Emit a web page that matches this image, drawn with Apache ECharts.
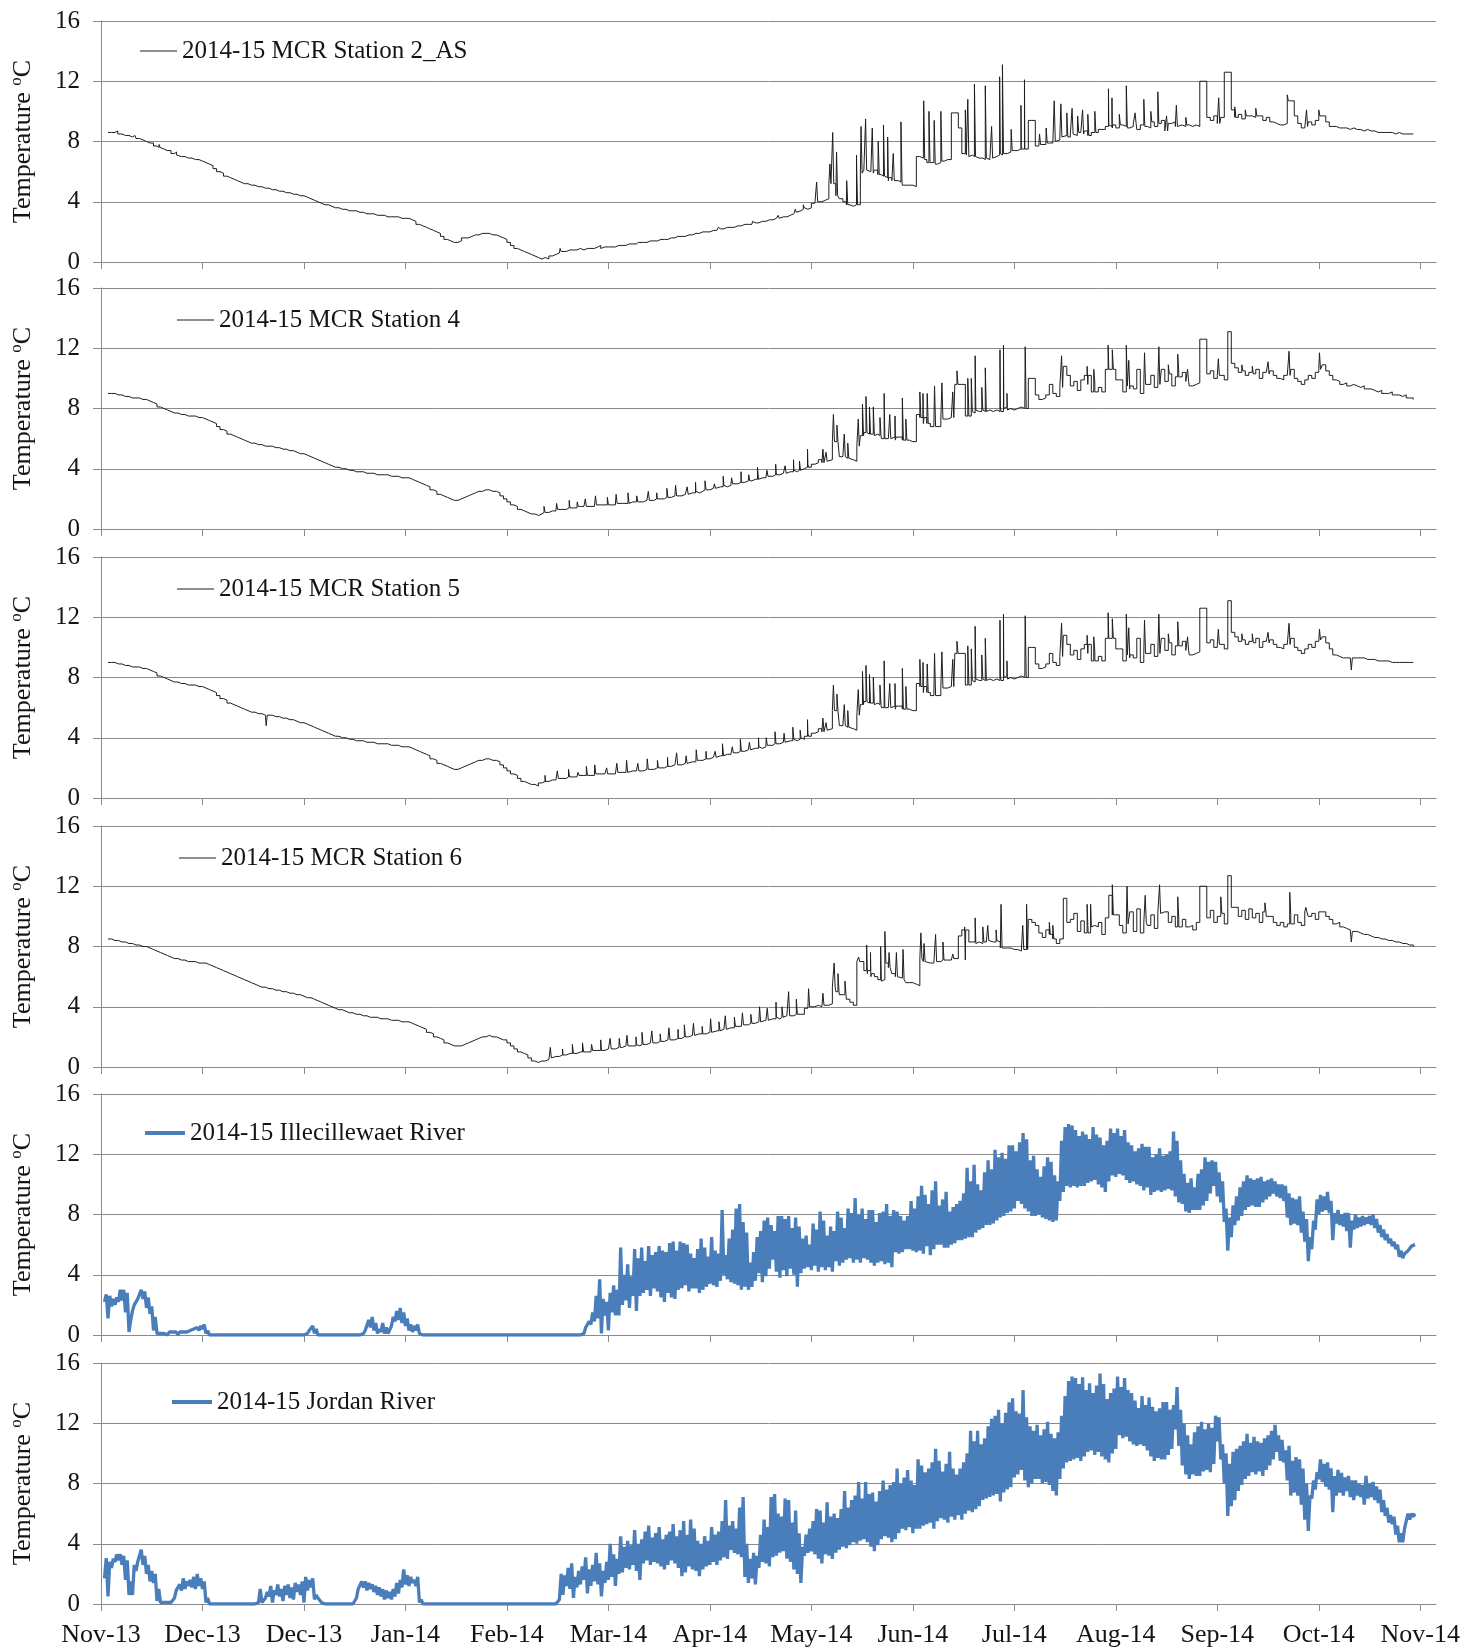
<!DOCTYPE html>
<html>
<head>
<meta charset="utf-8">
<title>2014-15 water temperature</title>
<script src="https://cdn.jsdelivr.net/npm/echarts@6.0.0/dist/echarts.min.js"></script>
<style>
  html, body { margin: 0; padding: 0; background: #ffffff; }
  #chart { width: 1481px; height: 1652px; }
</style>
</head>
<body>
<div id="chart"></div>
<script>
// Month tick labels along the shared time axis (one tick every 29 days from the first reading day).
const xTickLabels = ['Nov-13', 'Dec-13', 'Dec-13', 'Jan-14', 'Feb-14', 'Mar-14', 'Apr-14',
  'May-14', 'Jun-14', 'Jul-14', 'Aug-14', 'Sep-14', 'Oct-14', 'Nov-14'];
const tickStepDays = 29;
const yTickValues = [0, 4, 8, 12, 16];

// Lake stations: one settled reading per day (first value is day 2),
// plus short-lived excursions listed as [day, temperature].
const stationFirstDay = 2;

const station2ASDaily = [
  8.6, 8.6, 8.5, 8.5, 8.4, 8.4, 8.3, 8.3, 8.2, 8.1,
  8.0, 7.9, 7.9, 7.7, 7.6, 7.5, 7.4, 7.3, 7.2, 7.1,
  7.0, 7.0, 6.9, 6.9, 6.8, 6.8, 6.7, 6.6, 6.5, 6.4,
  6.2, 6.0, 5.9, 5.7, 5.6, 5.5, 5.4, 5.3, 5.2, 5.2,
  5.1, 5.1, 5.0, 5.0, 4.9, 4.9, 4.8, 4.8, 4.7, 4.7,
  4.6, 4.6, 4.5, 4.5, 4.4, 4.4, 4.3, 4.2, 4.1, 4.0,
  3.9, 3.8, 3.8, 3.7, 3.6, 3.6, 3.5, 3.5, 3.4, 3.4,
  3.4, 3.3, 3.3, 3.2, 3.2, 3.2, 3.1, 3.1, 3.1, 3.0,
  3.0, 3.0, 3.0, 2.9, 2.9, 2.9, 2.8, 2.7, 2.5, 2.4,
  2.3, 2.2, 2.1, 2.0, 1.9, 1.7, 1.5, 1.4, 1.3, 1.3,
  1.4, 1.6, 1.6, 1.7, 1.8, 1.8, 1.9, 1.9, 1.9, 1.8,
  1.8, 1.7, 1.6, 1.5, 1.3, 1.1, 0.9, 0.8, 0.7, 0.6,
  0.5, 0.4, 0.3, 0.2, 0.3, 0.2, 0.4, 0.5, 0.6, 0.7,
  0.7, 0.8, 0.8, 0.8, 0.9, 0.8, 0.9, 0.9, 0.9, 1.0,
  0.9, 1.0, 1.0, 1.0, 1.0, 1.1, 1.1, 1.1, 1.2, 1.2,
  1.2, 1.3, 1.3, 1.3, 1.4, 1.4, 1.4, 1.5, 1.5, 1.5,
  1.6, 1.6, 1.7, 1.7, 1.7, 1.8, 1.8, 1.9, 1.9, 2.0,
  2.0, 2.0, 2.1, 2.1, 2.2, 2.2, 2.3, 2.3, 2.3, 2.4,
  2.4, 2.5, 2.5, 2.5, 2.6, 2.6, 2.7, 2.7, 2.8, 2.8,
  2.9, 2.9, 3.0, 3.0, 3.1, 3.2, 3.3, 3.4, 3.5, 3.6,
  3.6, 3.9, 4.0, 4.0, 4.1, 4.2, 5.2, 5.2, 4.4, 4.2,
  4.0, 3.8, 3.7, 3.8, 5.7, 5.9, 6.1, 6.0, 5.9, 6.1,
  5.8, 5.7, 5.6, 5.4, 5.4, 5.4, 5.3, 5.1, 5.1, 5.1,
  5.0, 7.0, 6.9, 6.8, 6.6, 6.6, 6.5, 6.6, 6.7, 6.8,
  6.8, 9.9, 9.9, 8.9, 7.2, 7.1, 7.0, 7.0, 6.9, 6.9,
  6.8, 6.9, 6.9, 7.0, 7.1, 7.2, 7.2, 7.3, 7.4, 7.4,
  7.5, 7.5, 7.5, 9.4, 9.4, 7.7, 7.8, 7.8, 7.9, 7.9,
  8.0, 8.1, 8.3, 8.4, 8.3, 8.5, 8.4, 8.6, 8.5, 8.7,
  8.4, 8.6, 8.6, 8.8, 8.8, 9.0, 9.1, 8.9, 8.9, 9.1,
  9.0, 8.9, 9.0, 9.2, 8.8, 9.1, 9.0, 8.9, 9.3, 9.0,
  9.2, 9.4, 8.7, 9.2, 9.3, 9.0, 9.1, 9.0, 9.1, 9.0,
  9.1, 9.0, 12.0, 12.0, 9.6, 9.4, 9.7, 9.2, 9.6, 12.6,
  12.6, 10.1, 9.6, 9.8, 9.5, 9.7, 9.7, 9.6, 9.7, 9.7,
  9.4, 9.6, 9.3, 9.2, 9.1, 9.1, 9.2, 10.7, 10.7, 9.7,
  9.2, 8.9, 9.0, 9.3, 9.1, 9.4, 9.7, 9.7, 9.3, 9.0,
  9.0, 8.9, 8.9, 8.9, 8.8, 8.9, 8.8, 8.8, 8.7, 8.8,
  8.7, 8.7, 8.6, 8.6, 8.6, 8.6, 8.6, 8.5, 8.6, 8.5,
  8.5, 8.5, 8.5, 8.5
];
const station2ASSpikes = [
  [4.5, 8.7], [9.4, 8.4], [14.2, 8.0], [16.6, 7.8], [18.9, 7.5], [21.3, 7.3],
  [131.2, 0.9], [142.5, 1.1], [153.6, 1.4], [164.8, 1.8], [176.4, 2.3], [186.2, 2.7],
  [193.5, 3.1], [198.4, 3.5], [200.7, 3.8],
  [204.5, 5.3], [208.3, 6.5], [209.1, 8.6], [210.2, 7.3], [213.1, 5.4], [215.9, 7.1],
  [217.2, 9.0], [218.5, 9.5], [220.4, 8.9], [222.1, 8.0], [223.6, 9.1], [224.8, 8.3],
  [226.4, 7.2], [228.6, 9.3], [235.1, 10.7], [236.6, 10.0], [238.1, 9.4], [240.0, 10.0],
  [247.0, 10.1], [247.7, 10.8], [249.6, 11.8], [252.7, 11.7], [254.5, 9.0], [256.8, 12.3],
  [257.6, 13.1], [260.1, 8.8], [262.9, 10.4], [263.9, 12.1], [268.2, 8.5], [270.1, 8.9],
  [272.4, 10.7], [274.3, 10.5], [276.0, 9.9], [277.5, 10.2], [279.1, 9.7], [280.5, 10.1],
  [282.0, 9.8], [284.0, 10.0], [287.9, 11.5], [288.9, 10.9], [291.0, 9.8], [293.0, 11.7],
  [295.5, 9.9], [298.0, 10.8], [300.0, 10.0], [302.0, 11.3], [304.5, 9.7], [307.3, 10.4],
  [310.0, 9.6], [319.4, 10.9], [324.0, 10.3], [327.0, 10.1], [330.0, 10.2], [339.0, 11.1],
  [344.5, 10.1], [348.0, 10.1]
];

const station4Daily = [
  9.0, 9.0, 8.9, 8.9, 8.8, 8.8, 8.7, 8.7, 8.7, 8.6,
  8.6, 8.5, 8.4, 8.3, 8.1, 8.0, 7.9, 7.8, 7.7, 7.7,
  7.6, 7.6, 7.5, 7.5, 7.5, 7.4, 7.4, 7.3, 7.2, 7.1,
  7.0, 6.8, 6.6, 6.5, 6.3, 6.2, 6.1, 6.0, 5.9, 5.8,
  5.7, 5.7, 5.6, 5.6, 5.5, 5.5, 5.5, 5.4, 5.4, 5.3,
  5.3, 5.2, 5.2, 5.1, 5.0, 5.0, 4.9, 4.8, 4.7, 4.6,
  4.5, 4.4, 4.3, 4.2, 4.1, 4.1, 4.0, 4.0, 3.9, 3.9,
  3.8, 3.8, 3.8, 3.7, 3.7, 3.7, 3.6, 3.6, 3.6, 3.6,
  3.5, 3.5, 3.5, 3.4, 3.4, 3.4, 3.3, 3.2, 3.1, 3.0,
  2.9, 2.8, 2.6, 2.5, 2.3, 2.2, 2.1, 2.0, 1.9, 1.9,
  2.0, 2.1, 2.2, 2.3, 2.4, 2.5, 2.5, 2.6, 2.6, 2.5,
  2.5, 2.4, 2.2, 2.0, 1.8, 1.6, 1.5, 1.3, 1.2, 1.1,
  1.0, 1.0, 0.9, 1.0, 1.1, 1.1, 1.2, 1.2, 1.3, 1.3,
  1.3, 1.4, 1.4, 1.4, 1.5, 1.5, 1.5, 1.5, 1.5, 1.6,
  1.6, 1.6, 1.6, 1.6, 1.6, 1.7, 1.7, 1.7, 1.7, 1.8,
  1.8, 1.8, 1.8, 1.9, 1.9, 1.9, 2.0, 2.0, 2.0, 2.1,
  2.1, 2.2, 2.2, 2.2, 2.3, 2.3, 2.4, 2.4, 2.5, 2.5,
  2.6, 2.6, 2.7, 2.7, 2.8, 2.8, 2.9, 2.9, 3.0, 3.0,
  3.1, 3.1, 3.2, 3.2, 3.3, 3.3, 3.4, 3.4, 3.5, 3.5,
  3.6, 3.6, 3.7, 3.7, 3.8, 3.8, 3.9, 3.9, 4.0, 4.1,
  4.3, 4.3, 4.4, 4.6, 4.4, 4.5, 4.6, 5.8, 5.8, 4.8,
  4.8, 4.7, 4.6, 4.5, 5.5, 6.2, 6.4, 6.3, 6.3, 6.2,
  6.2, 6.0, 6.0, 6.0, 6.1, 5.9, 6.1, 5.9, 5.9, 5.8,
  5.8, 7.6, 7.4, 7.0, 7.0, 6.8, 6.8, 6.8, 7.3, 7.3,
  7.4, 7.4, 9.6, 9.6, 9.6, 7.5, 7.7, 7.8, 7.9, 7.8,
  7.9, 7.8, 7.8, 7.9, 7.8, 8.1, 8.0, 7.9, 7.9, 8.0,
  8.1, 8.0, 8.0, 10.0, 10.0, 8.9, 8.6, 8.7, 8.9, 9.6,
  9.0, 8.8, 9.4, 10.8, 10.2, 9.5, 9.8, 9.2, 9.9, 10.2,
  9.6, 9.1, 9.7, 9.4, 9.1, 10.6, 10.6, 10.6, 9.9, 9.9,
  9.1, 9.5, 9.3, 9.3, 10.6, 9.0, 9.6, 9.6, 10.2, 9.4,
  9.6, 10.6, 9.8, 10.3, 9.5, 10.1, 10.4, 10.4, 9.8, 9.5,
  9.6, 9.7, 12.6, 12.6, 10.3, 10.5, 10.0, 10.2, 10.2, 9.9,
  13.1, 11.0, 10.7, 10.4, 10.5, 10.2, 10.4, 10.3, 10.6, 10.0,
  10.4, 10.3, 10.5, 10.2, 10.0, 9.9, 10.2, 10.2, 10.6, 10.0,
  9.8, 9.6, 9.9, 10.2, 10.0, 10.4, 10.6, 10.9, 10.5, 10.2,
  9.9, 9.8, 9.6, 9.7, 9.5, 9.6, 9.5, 9.4, 9.5, 9.3,
  9.3, 9.2, 9.1, 9.2, 9.0, 9.0, 9.1, 8.9, 8.9, 8.8,
  8.9, 8.7, 8.7, 8.6
];
const station4Spikes = [
  [126.6, 1.5], [130.2, 1.7], [133.8, 1.9], [136.1, 1.8], [138.4, 2.0], [141.3, 2.2],
  [144.7, 2.1], [147.2, 2.3], [150.6, 2.4], [153.1, 2.2], [156.4, 2.5], [158.8, 2.4],
  [161.7, 2.7], [164.2, 2.9], [167.5, 2.8], [169.9, 3.1], [172.6, 3.2], [175.3, 3.0],
  [177.8, 3.5], [180.2, 3.4], [182.9, 3.8], [185.1, 3.6], [187.6, 4.1], [190.3, 3.9],
  [192.8, 4.3], [195.5, 4.2], [197.9, 4.6], [199.6, 4.5],
  [201.9, 5.3], [206.3, 5.3], [207.2, 5.1], [209.3, 7.6], [210.3, 6.9], [212.4, 6.3],
  [213.4, 5.7], [216.4, 7.3], [217.6, 8.3], [218.6, 8.8], [219.6, 8.1], [220.7, 8.1],
  [222.6, 7.4], [223.8, 9.0], [225.4, 7.6], [226.9, 7.5], [229.0, 8.7], [230.0, 7.3],
  [234.0, 9.1], [234.9, 9.0], [236.1, 9.0], [238.2, 9.5], [240.3, 9.7], [243.4, 9.1],
  [244.6, 10.5], [247.7, 10.0], [248.7, 10.0], [249.8, 11.5], [251.7, 9.4], [252.7, 10.7],
  [256.9, 11.9], [257.9, 12.2], [258.9, 9.0], [264.1, 12.1], [274.5, 11.5], [281.8, 10.8],
  [283.7, 10.6], [287.8, 12.2], [289.0, 11.9], [293.0, 12.2], [293.7, 11.2], [298.2, 11.7],
  [302.3, 12.1], [305.0, 10.9], [307.7, 11.6], [310.5, 10.6], [319.3, 11.3], [326.0, 10.9],
  [329.0, 10.8], [333.5, 11.1], [339.5, 11.8], [348.2, 11.7]
];

const station5Daily = [
  9.0, 9.0, 8.9, 8.9, 8.8, 8.8, 8.7, 8.7, 8.7, 8.6,
  8.6, 8.5, 8.4, 8.3, 8.1, 8.0, 7.9, 7.8, 7.7, 7.7,
  7.6, 7.6, 7.5, 7.5, 7.5, 7.4, 7.4, 7.3, 7.2, 7.1,
  7.0, 6.8, 6.6, 6.5, 6.3, 6.2, 6.1, 6.0, 5.9, 5.8,
  5.7, 5.7, 5.6, 5.6, 5.5, 5.5, 5.5, 5.4, 5.4, 5.3,
  5.3, 5.2, 5.2, 5.1, 5.0, 5.0, 4.9, 4.8, 4.7, 4.6,
  4.5, 4.4, 4.3, 4.2, 4.1, 4.1, 4.0, 4.0, 3.9, 3.9,
  3.8, 3.8, 3.8, 3.7, 3.7, 3.7, 3.6, 3.6, 3.6, 3.6,
  3.5, 3.5, 3.5, 3.4, 3.4, 3.4, 3.3, 3.2, 3.1, 3.0,
  2.9, 2.8, 2.6, 2.5, 2.3, 2.2, 2.1, 2.0, 1.9, 1.9,
  2.0, 2.1, 2.2, 2.3, 2.4, 2.5, 2.5, 2.6, 2.6, 2.5,
  2.5, 2.4, 2.2, 2.0, 1.8, 1.6, 1.5, 1.3, 1.1, 1.0,
  0.9, 0.9, 0.8, 1.0, 1.1, 1.1, 1.2, 1.2, 1.3, 1.3,
  1.3, 1.4, 1.4, 1.4, 1.5, 1.5, 1.5, 1.5, 1.5, 1.6,
  1.6, 1.6, 1.6, 1.6, 1.6, 1.7, 1.7, 1.7, 1.7, 1.8,
  1.8, 1.8, 1.8, 1.9, 1.9, 1.9, 2.0, 2.0, 2.0, 2.1,
  2.1, 2.2, 2.2, 2.2, 2.3, 2.3, 2.4, 2.4, 2.5, 2.5,
  2.6, 2.6, 2.7, 2.7, 2.8, 2.8, 2.9, 2.9, 3.0, 3.0,
  3.1, 3.1, 3.2, 3.2, 3.3, 3.3, 3.4, 3.4, 3.5, 3.5,
  3.6, 3.6, 3.7, 3.7, 3.8, 3.8, 3.9, 3.9, 4.0, 4.1,
  4.3, 4.3, 4.4, 4.6, 4.4, 4.5, 4.6, 5.8, 5.8, 4.8,
  4.8, 4.7, 4.6, 4.5, 5.5, 6.2, 6.4, 6.3, 6.3, 6.2,
  6.2, 6.0, 6.0, 6.0, 6.1, 5.9, 6.1, 5.9, 5.9, 5.8,
  5.8, 7.6, 7.4, 7.0, 7.0, 6.8, 6.8, 6.8, 7.3, 7.3,
  7.4, 7.4, 9.6, 9.6, 9.6, 7.5, 7.7, 7.8, 7.9, 7.8,
  7.9, 7.8, 7.8, 7.9, 7.8, 8.1, 8.0, 7.9, 7.9, 8.0,
  8.1, 8.0, 8.0, 10.0, 10.0, 8.9, 8.6, 8.7, 8.9, 9.6,
  9.0, 8.8, 9.4, 10.8, 10.2, 9.5, 9.8, 9.2, 9.9, 10.2,
  9.6, 9.1, 9.7, 9.4, 9.1, 10.6, 10.6, 10.6, 9.9, 9.9,
  9.1, 9.5, 9.3, 9.3, 10.6, 9.0, 9.6, 9.6, 10.2, 9.4,
  9.6, 10.6, 9.8, 10.3, 9.5, 10.1, 10.4, 10.4, 9.8, 9.5,
  9.6, 9.7, 12.6, 12.6, 10.3, 10.5, 10.0, 10.2, 10.2, 9.9,
  13.1, 11.0, 10.7, 10.4, 10.5, 10.2, 10.4, 10.3, 10.6, 10.0,
  10.4, 10.3, 10.5, 10.2, 10.0, 9.9, 10.2, 10.2, 10.6, 10.0,
  9.8, 9.6, 9.9, 10.2, 10.0, 10.4, 10.5, 10.7, 10.3, 9.9,
  9.5, 9.4, 9.3, 9.3, 9.3, 9.3, 9.3, 9.3, 9.3, 9.2,
  9.2, 9.2, 9.1, 9.1, 9.1, 9.1, 9.0, 9.0, 9.0, 9.0,
  9.0, 9.0, 9.0, 9.0
];
const station5Spikes = [
  [47.2, 4.8],
  [126.9, 1.5], [130.4, 1.8], [133.6, 1.9], [136.3, 1.7], [138.7, 2.1], [141.1, 2.2],
  [144.5, 2.0], [147.4, 2.3], [150.2, 2.5], [153.4, 2.3], [156.1, 2.6], [159.0, 2.5],
  [161.9, 2.7], [164.5, 3.0], [167.2, 2.8], [170.1, 3.2], [172.9, 3.1], [175.5, 3.1],
  [177.6, 3.6], [180.4, 3.4], [182.7, 3.9], [185.3, 3.7], [187.9, 4.0], [190.1, 4.0],
  [192.6, 4.4], [195.2, 4.3], [197.7, 4.7], [199.8, 4.5],
  [201.9, 5.2], [206.3, 5.3], [207.2, 5.0], [209.3, 7.5], [210.3, 6.9], [212.4, 6.2],
  [213.4, 5.8], [216.4, 7.2], [217.6, 8.4], [218.6, 8.8], [219.6, 8.2], [220.7, 8.0],
  [222.6, 7.5], [223.8, 9.1], [225.4, 7.6], [226.9, 7.6], [229.0, 8.6], [230.0, 7.4],
  [234.0, 9.2], [234.9, 9.0], [236.1, 8.9], [238.2, 9.6], [240.3, 9.7], [243.4, 9.2],
  [244.6, 10.4], [247.7, 10.1], [248.7, 9.9], [249.8, 11.4], [251.7, 9.5], [252.7, 10.6],
  [256.9, 11.8], [257.9, 12.2], [258.9, 9.1], [264.1, 12.1], [274.5, 11.6], [281.8, 10.8],
  [283.7, 10.7], [287.8, 12.3], [289.0, 11.9], [293.0, 12.2], [293.7, 11.3], [298.2, 11.8],
  [302.3, 12.2], [305.0, 10.9], [307.7, 11.7], [310.5, 10.7], [319.3, 11.2], [326.0, 10.9],
  [329.0, 10.9], [333.5, 11.0], [339.5, 11.6], [348.2, 11.2], [357.3, 8.5]
];

const station6Daily = [
  8.5, 8.4, 8.4, 8.3, 8.3, 8.2, 8.2, 8.1, 8.1, 8.0,
  8.0, 7.9, 7.8, 7.7, 7.6, 7.5, 7.4, 7.3, 7.2, 7.2,
  7.1, 7.1, 7.0, 7.0, 7.0, 6.9, 6.9, 6.9, 6.8, 6.7,
  6.6, 6.5, 6.4, 6.3, 6.2, 6.1, 6.0, 5.9, 5.8, 5.7,
  5.6, 5.5, 5.4, 5.3, 5.3, 5.2, 5.2, 5.1, 5.1, 5.0,
  5.0, 4.9, 4.9, 4.8, 4.8, 4.7, 4.6, 4.6, 4.5, 4.4,
  4.3, 4.2, 4.1, 4.0, 3.9, 3.8, 3.8, 3.7, 3.6, 3.6,
  3.5, 3.5, 3.4, 3.4, 3.3, 3.3, 3.3, 3.2, 3.2, 3.2,
  3.1, 3.1, 3.1, 3.0, 3.0, 3.0, 2.9, 2.8, 2.7, 2.6,
  2.5, 2.3, 2.2, 2.0, 1.9, 1.8, 1.6, 1.5, 1.4, 1.4,
  1.4, 1.5, 1.6, 1.7, 1.8, 1.9, 2.0, 2.0, 2.1, 2.0,
  2.0, 1.9, 1.8, 1.8, 1.6, 1.4, 1.2, 1.0, 0.9, 0.8,
  0.6, 0.4, 0.3, 0.4, 0.4, 0.5, 0.6, 0.7, 0.7, 0.8,
  0.8, 0.9, 0.9, 0.9, 1.0, 1.0, 1.0, 1.0, 1.1, 1.1,
  1.1, 1.1, 1.2, 1.2, 1.2, 1.3, 1.3, 1.4, 1.4, 1.4,
  1.4, 1.5, 1.5, 1.5, 1.6, 1.6, 1.6, 1.7, 1.7, 1.8,
  1.8, 1.8, 1.9, 1.9, 2.0, 2.0, 2.1, 2.1, 2.2, 2.2,
  2.2, 2.3, 2.3, 2.4, 2.4, 2.5, 2.5, 2.6, 2.6, 2.7,
  2.7, 2.8, 2.8, 2.9, 2.9, 3.0, 3.0, 3.1, 3.1, 3.2,
  3.2, 3.3, 3.3, 3.4, 3.4, 3.4, 3.5, 3.5, 3.5, 3.9,
  4.0, 4.0, 4.1, 4.0, 4.1, 4.1, 4.2, 5.3, 5.0, 4.8,
  4.8, 4.5, 4.3, 4.1, 7.0, 7.0, 6.4, 6.2, 6.0, 6.0,
  5.8, 5.7, 6.9, 6.6, 6.2, 6.0, 5.9, 5.8, 5.6, 5.6,
  5.5, 5.4, 7.2, 7.0, 6.9, 6.9, 7.0, 7.0, 7.1, 7.1,
  7.1, 7.2, 7.2, 8.7, 9.1, 7.1, 8.3, 8.3, 8.2, 8.2,
  8.3, 8.4, 8.3, 8.3, 8.4, 7.9, 7.9, 7.9, 7.8, 7.8,
  7.7, 7.8, 7.8, 9.8, 9.6, 9.4, 8.9, 8.6, 9.1, 8.8,
  8.5, 8.2, 8.5, 11.2, 9.6, 9.8, 10.2, 9.0, 9.7, 8.9,
  9.4, 9.3, 9.3, 9.6, 8.8, 9.9, 11.4, 10.1, 10.1, 9.4,
  8.9, 9.5, 10.3, 9.0, 10.5, 8.9, 9.6, 9.4, 10.1, 9.2,
  10.2, 10.3, 10.3, 9.6, 10.0, 9.3, 9.8, 9.8, 9.3, 9.4,
  9.1, 9.6, 12.0, 12.0, 9.9, 10.4, 9.6, 10.0, 10.2, 9.5,
  12.7, 10.6, 10.6, 10.0, 10.4, 9.8, 10.5, 9.9, 10.2, 9.6,
  10.3, 10.0, 10.0, 9.6, 9.4, 9.6, 9.3, 9.5, 10.1, 10.1,
  9.6, 9.4, 10.3, 10.0, 10.2, 9.8, 10.3, 10.3, 10.0, 9.8,
  9.5, 9.6, 9.3, 9.2, 9.1, 9.0, 9.0, 8.9, 8.8, 8.8,
  8.7, 8.6, 8.6, 8.5, 8.5, 8.4, 8.4, 8.3, 8.3, 8.2,
  8.2, 8.1, 8.1, 8.0
];
const station6Spikes = [
  [128.4, 1.3], [131.9, 1.2], [134.7, 1.5], [137.6, 1.6], [140.2, 1.5], [142.8, 1.8],
  [145.5, 1.9], [148.1, 1.9], [150.3, 2.1], [152.9, 2.0], [154.6, 2.3], [157.4, 2.4],
  [159.8, 2.2], [162.3, 2.6], [164.9, 2.5], [166.7, 2.8], [169.3, 2.9], [171.8, 2.7],
  [174.2, 3.2], [176.6, 3.0], [178.4, 3.4], [181.0, 3.3], [183.3, 3.6], [185.7, 3.5],
  [188.2, 4.0], [190.4, 3.9], [192.9, 4.3], [194.6, 4.0], [196.5, 5.0], [198.7, 4.5],
  [202.2, 5.2], [206.3, 4.9], [209.5, 6.9], [210.6, 6.2], [212.6, 5.7], [216.5, 7.3],
  [218.8, 8.1], [219.9, 7.6], [222.8, 8.0], [224.0, 9.0], [225.2, 7.6], [227.3, 7.6],
  [229.2, 7.8], [234.3, 8.9], [235.2, 8.2], [238.5, 8.8], [240.6, 8.3], [243.4, 7.5],
  [246.8, 9.3], [249.8, 9.9], [252.0, 9.3], [253.4, 9.4], [255.8, 9.1], [257.2, 10.8],
  [263.4, 9.4], [264.5, 10.8], [271.0, 9.6], [272.0, 9.4], [281.8, 10.8], [282.8, 10.8],
  [289.0, 12.1], [293.2, 12.0], [298.4, 11.4], [302.5, 12.1], [307.7, 11.3], [320.0, 11.3],
  [332.6, 10.9], [339.7, 11.6], [344.3, 10.6], [357.3, 8.3]
];

// Rivers: daily low and daily high, first value is day 1.
const riverFirstDay = 1;

const illecillewaetLow = [
  2.2, 1.1, 1.9, 2.0, 2.2, 2.3, 1.5, 0.2, 1.6, 1.9,
  2.5, 2.4, 1.8, 1.4, 0.3, 0.1, 0.1, 0.1, 0.0, 0.1,
  0.1, 0.0, 0.1, 0.1, 0.1, 0.2, 0.3, 0.3, 0.4, 0.1,
  0, 0, 0, 0, 0, 0, 0, 0, 0, 0,
  0, 0, 0, 0, 0, 0, 0, 0, 0, 0,
  0, 0, 0, 0, 0, 0, 0, 0, 0.1, 0.2,
  0.1, 0, 0, 0, 0, 0, 0, 0, 0, 0,
  0, 0, 0, 0, 0.1, 0.4, 0.5, 0.3, 0.1, 0.2,
  0.1, 0.1, 0.6, 0.9, 1.0, 0.8, 0.6, 0.3, 0.2, 0.3,
  0.1, 0, 0, 0, 0, 0, 0, 0, 0, 0,
  0, 0, 0, 0, 0, 0, 0, 0, 0, 0,
  0, 0, 0, 0, 0, 0, 0, 0, 0, 0,
  0, 0, 0, 0, 0, 0, 0, 0, 0, 0,
  0, 0, 0, 0, 0, 0, 0, 0.1, 0.4, 0.7,
  0.9, 1.1, 0.1, 1.3, 0.3, 1.5, 1.3, 1.3, 2.0, 2.3,
  1.8, 2.6, 1.6, 2.6, 2.8, 3.0, 2.6, 3.1, 2.9, 2.5,
  2.2, 2.8, 2.5, 2.4, 3.0, 3.1, 3.3, 2.9, 3.1, 3.1,
  2.8, 3.0, 3.2, 3.4, 3.3, 3.2, 3.6, 4.0, 3.7, 3.5,
  3.4, 3.3, 3.0, 3.2, 3.0, 3.2, 3.6, 4.1, 3.5, 3.9,
  4.4, 5.0, 4.2, 3.8, 4.3, 3.9, 4.4, 4.0, 3.2, 4.1,
  4.4, 4.5, 4.3, 4.6, 4.2, 4.5, 4.3, 4.5, 4.2, 4.9,
  4.6, 4.8, 5.0, 5.1, 4.8, 5.0, 4.8, 5.1, 5.0, 4.8,
  4.6, 4.8, 4.9, 4.7, 4.8, 4.5, 5.5, 5.4, 5.5, 5.7,
  5.7, 5.6, 5.5, 5.6, 5.4, 5.9, 5.3, 5.7, 6.0, 6.0,
  5.8, 5.8, 6.0, 6.1, 6.3, 6.3, 6.4, 6.5, 6.5, 6.8,
  7.0, 7.1, 7.3, 7.3, 7.4, 7.6, 7.8, 7.9, 8.1, 8.2,
  8.4, 8.9, 8.7, 8.4, 8.2, 7.9, 7.9, 8.0, 7.8, 7.7,
  7.6, 7.5, 7.6, 8.9, 9.5, 9.9, 9.8, 9.9, 9.8, 9.9,
  9.9, 10.1, 10.2, 10.3, 10.0, 9.8, 9.5, 10.2, 10.6, 10.5,
  10.7, 10.6, 10.3, 10.1, 10.2, 10.0, 9.9, 9.6, 9.8, 9.3,
  9.5, 9.6, 9.5, 9.6, 9.7, 9.6, 9.2, 8.8, 8.7, 8.2,
  8.1, 8.3, 8.3, 8.3, 8.6, 8.9, 9.4, 9.9, 9.2, 8.8,
  7.5, 5.6, 6.5, 7.3, 7.6, 7.9, 8.3, 8.5, 8.6, 8.5,
  8.5, 8.8, 9.0, 9.2, 9.4, 9.2, 9.1, 8.9, 7.8, 7.3,
  7.4, 7.3, 6.8, 6.2, 4.9, 5.7, 7.0, 8.0, 8.2, 8.3,
  8.1, 6.3, 7.4, 7.3, 7.2, 6.9, 5.8, 7.0, 7.1, 7.2,
  7.3, 7.4, 7.3, 7.1, 6.8, 6.5, 6.3, 6.1, 5.9, 5.7,
  5.2, 5.1, 5.3, 5.5, 5.8
];

const illecillewaetHigh = [
  2.7, 2.6, 2.4, 2.5, 3.0, 3.0, 2.8, 1.0, 2.0, 2.4,
  3.0, 2.9, 2.5, 1.9, 1.2, 0.2, 0.2, 0.2, 0.2, 0.2,
  0.2, 0.2, 0.2, 0.2, 0.3, 0.4, 0.5, 0.6, 0.7, 0.3,
  0.1, 0, 0, 0.1, 0, 0, 0.1, 0, 0, 0,
  0, 0, 0.1, 0, 0, 0, 0, 0.1, 0, 0,
  0, 0, 0.1, 0, 0, 0, 0.1, 0, 0.3, 0.6,
  0.4, 0.1, 0, 0, 0, 0.1, 0, 0, 0, 0,
  0, 0.1, 0, 0, 0.3, 1.0, 1.2, 0.8, 0.4, 0.8,
  0.5, 0.2, 1.2, 1.6, 1.8, 1.5, 1.1, 0.7, 0.6, 0.7,
  0.2, 0.1, 0, 0, 0, 0, 0, 0.1, 0, 0,
  0, 0, 0, 0.1, 0, 0, 0, 0, 0, 0.1,
  0, 0, 0, 0, 0.1, 0, 0, 0, 0, 0,
  0, 0.1, 0, 0, 0, 0.1, 0, 0.1, 0, 0.1,
  0.1, 0, 0.1, 0.1, 0.1, 0, 0.1, 0.5, 0.9, 1.5,
  2.6, 3.7, 2.4, 2.2, 2.8, 3.3, 3.0, 5.8, 4.0, 4.7,
  3.9, 5.7, 5.1, 5.8, 4.9, 5.9, 5.3, 5.5, 5.9, 5.6,
  5.5, 6.1, 6.2, 5.6, 6.2, 6.1, 6.0, 5.4, 5.1, 5.7,
  6.4, 5.8, 5.2, 6.5, 5.6, 5.4, 8.3, 5.3, 6.4, 7.0,
  8.4, 8.7, 7.5, 6.8, 4.8, 5.5, 6.5, 6.9, 7.6, 7.8,
  7.3, 6.9, 7.9, 7.9, 7.7, 7.9, 7.1, 7.8, 7.2, 6.4,
  6.6, 6.0, 7.4, 7.0, 8.2, 7.6, 6.6, 7.2, 6.9, 8.2,
  7.8, 7.1, 8.4, 8.1, 9.1, 8.0, 8.4, 7.7, 8.3, 8.3,
  7.5, 8.1, 8.2, 8.7, 7.9, 8.3, 8.2, 7.9, 7.6, 7.9,
  8.9, 8.4, 9.2, 9.9, 9.3, 8.7, 9.6, 10.2, 8.6, 9.0,
  9.5, 8.2, 8.5, 8.7, 8.9, 9.4, 11.1, 10.2, 11.3, 10.0,
  9.6, 10.8, 11.6, 11.0, 12.3, 11.8, 12.1, 11.7, 12.6, 12.6,
  12.2, 12.8, 13.4, 13.0, 11.6, 11.9, 11.0, 10.5, 11.2, 11.8,
  11.5, 10.6, 10.2, 12.9, 13.8, 14.0, 13.9, 13.6, 13.2, 13.5,
  13.3, 13.0, 13.8, 13.3, 13.1, 12.6, 12.9, 13.7, 13.4, 13.7,
  13.2, 13.6, 12.8, 12.6, 12.2, 12.4, 12.7, 12.5, 12.5, 11.8,
  12.0, 12.4, 11.9, 12.0, 12.2, 13.5, 12.9, 11.6, 10.7, 10.1,
  10.4, 9.8, 10.7, 11.0, 11.8, 11.5, 11.6, 11.5, 10.8, 10.2,
  8.4, 7.8, 8.6, 9.2, 9.8, 10.2, 10.6, 10.4, 10.3, 10.4,
  10.5, 10.2, 10.3, 10.4, 10.2, 10.0, 10.0, 9.9, 9.4, 9.1,
  9.0, 9.2, 8.2, 7.7, 6.5, 7.6, 9.0, 9.3, 9.2, 9.5,
  8.9, 8.1, 8.3, 8.0, 8.1, 8.1, 7.6, 8.0, 7.8, 7.9,
  7.8, 7.9, 8.0, 7.7, 7.3, 7.0, 6.7, 6.4, 6.2, 6.0,
  5.6, 5.4, 5.6, 5.9, 6.0
];

const jordanLow = [
  1.7, 0.5, 2.4, 2.8, 2.9, 2.6, 1.6, 0.6, 0.6, 2.2,
  2.9, 2.6, 2.0, 1.5, 1.4, 0.2, 0.1, 0.1, 0.1, 0.1,
  0.4, 0.8, 0.9, 1.0, 1.2, 1.1, 1.0, 1.2, 1.0, 0.1,
  0, 0, 0, 0, 0, 0, 0, 0, 0, 0,
  0, 0, 0, 0, 0.1, 0.1, 0.4, 0.5, 0.1, 0.6,
  0.5, 0.2, 0.6, 0.4, 0.3, 0.8, 0.6, 0.1, 0.9, 1.1,
  0.3, 0.4, 0.1, 0, 0, 0, 0, 0, 0, 0,
  0, 0, 0.4, 1.0, 1.1, 0.9, 1.0, 0.8, 0.6, 0.5,
  0.3, 0.4, 0.3, 0.5, 0.7, 1.1, 1.3, 1.2, 1.4, 1.2,
  0.1, 0, 0, 0, 0, 0, 0, 0, 0, 0,
  0, 0, 0, 0, 0, 0, 0, 0, 0, 0,
  0, 0, 0, 0, 0, 0, 0, 0, 0, 0,
  0, 0, 0, 0, 0, 0, 0, 0, 0, 0,
  0.3, 0.6, 1.2, 1.0, 0.4, 1.1, 1.3, 1.6, 0.7, 1.2,
  1.5, 1.3, 0.5, 1.4, 1.6, 1.8, 1.2, 2.0, 2.1, 2.4,
  2.3, 2.6, 2.2, 1.6, 2.7, 2.9, 2.6, 2.8, 2.7, 2.5,
  2.3, 2.6, 2.9, 2.7, 2.4, 1.85, 2.1, 2.5, 2.3, 2.2,
  1.85, 2.3, 2.5, 2.6, 2.8, 2.6, 2.9, 3.1, 3.0, 3.6,
  3.4, 3.3, 3.1, 1.8, 1.4, 1.7, 1.3, 2.4, 2.8, 2.7,
  2.5, 3.1, 3.2, 3.4, 3.5, 3.0, 2.8, 2.3, 2.0, 1.4,
  3.2, 3.4, 3.5, 3.3, 3.0, 2.7, 3.3, 3.2, 3.0, 3.4,
  3.6, 3.8, 3.7, 3.9, 4.1, 4.0, 4.2, 4.3, 4.1, 3.8,
  3.5, 3.9, 4.3, 4.5, 4.4, 4.1, 4.3, 4.7, 5.0, 4.9,
  5.1, 4.7, 5.0, 5.0, 5.2, 5.3, 5.4, 5.0, 5.5, 5.7,
  5.6, 5.4, 5.8, 5.6, 5.9, 5.6, 6.0, 6.2, 6.1, 6.3,
  6.5, 6.9, 7.0, 7.1, 7.2, 7.3, 6.8, 7.4, 7.6, 7.75,
  8.4, 8.6, 8.9, 8.2, 7.75, 8.0, 8.3, 8.3, 8.0, 8.1,
  7.9, 7.5, 7.2, 8.3, 9.0, 9.4, 9.5, 9.6, 9.7, 9.5,
  9.8, 10.1, 10.2, 9.9, 10.1, 9.8, 9.6, 9.4, 10.0, 10.3,
  11.2, 11.0, 11.1, 10.8, 10.6, 10.5, 10.6, 10.5, 10.2, 9.8,
  9.5, 9.7, 9.6, 9.6, 9.9, 10.3, 11.6, 10.5, 9.2, 8.6,
  8.3, 8.6, 8.5, 8.5, 8.8, 8.9, 8.75, 9.3, 10.8, 9.6,
  8.0, 5.85, 6.5, 6.9, 7.5, 7.9, 8.3, 8.5, 8.75, 8.6,
  8.8, 8.5, 8.9, 9.2, 9.6, 10.1, 9.5, 9.4, 8.2, 7.2,
  7.4, 7.2, 6.6, 5.6, 4.85, 7.0, 7.6, 8.3, 8.1, 7.8,
  7.6, 6.1, 7.2, 7.4, 7.2, 7.5, 7.1, 6.9, 7.2, 7.1,
  6.6, 7.0, 7.1, 6.9, 6.7, 6.1, 5.85, 5.4, 5.3, 4.6,
  4.1, 4.1, 5.0, 5.6, 5.8
];

const jordanHigh = [
  3.05, 2.8, 3.0, 3.3, 3.3, 3.2, 2.9, 1.5, 2.6, 2.8,
  3.6, 3.2, 2.6, 2.2, 2.0, 1.0, 0.2, 0.2, 0.2, 0.1,
  0.9, 1.3, 1.7, 1.5, 1.6, 1.8, 2.0, 1.7, 1.5, 0.4,
  0.1, 0, 0, 0, 0, 0.1, 0, 0, 0, 0,
  0, 0.1, 0, 0, 1.0, 0.2, 0.8, 1.2, 0.9, 1.3,
  1.0, 1.2, 1.3, 1.1, 1.4, 1.3, 1.5, 1.8, 1.6, 1.7,
  0.6, 0.5, 0.2, 0, 0.1, 0, 0, 0, 0.1, 0,
  0, 0.1, 1.0, 1.5, 1.5, 1.4, 1.3, 1.2, 1.1, 1.0,
  0.9, 0.8, 1.0, 1.4, 1.6, 2.3, 1.9, 1.8, 1.6, 1.8,
  0.3, 0, 0, 0.1, 0, 0, 0, 0, 0, 0.1,
  0, 0, 0, 0, 0.1, 0, 0, 0, 0, 0,
  0, 0, 0, 0, 0, 0, 0.1, 0, 0, 0,
  0, 0, 0, 0.1, 0, 0, 0.1, 0, 0.1, 0.1,
  2.0, 1.9, 2.4, 2.7, 1.8, 2.2, 2.5, 3.1, 2.3, 2.6,
  3.4, 2.7, 2.2, 2.8, 4.0, 3.3, 3.0, 4.5, 3.8, 4.2,
  3.9, 4.9, 4.0, 4.3, 4.8, 5.2, 4.4, 4.7, 5.1, 4.3,
  4.6, 4.8, 5.3, 4.5, 4.9, 5.5, 4.6, 5.6, 5.0, 4.2,
  4.0, 4.5, 4.2, 5.1, 4.6, 4.8, 5.5, 6.9, 5.2, 5.5,
  5.0, 6.4, 7.1, 4.0, 3.0, 3.4, 3.2, 4.6, 5.6, 5.1,
  7.1, 7.3, 6.0, 5.8, 7.0, 6.9, 5.4, 6.2, 4.7, 3.8,
  4.6, 5.0, 5.5, 6.3, 6.2, 5.4, 6.75, 5.8, 6.0, 5.7,
  6.3, 7.5, 6.4, 6.9, 7.2, 8.1, 7.0, 8.1, 7.3, 7.4,
  6.8, 7.5, 8.2, 7.6, 7.9, 8.1, 9.0, 8.0, 8.4, 8.9,
  8.2, 7.9, 9.6, 9.2, 8.75, 9.0, 9.4, 10.3, 9.5, 8.8,
  9.3, 10.1, 9.0, 8.6, 9.0, 9.4, 10.0, 11.5, 10.8, 11.5,
  10.6, 11.0, 11.8, 12.3, 12.5, 12.9, 12.0, 12.7, 13.4, 13.65,
  12.8, 12.65, 14.2, 12.4, 11.8, 11.5, 11.9, 11.2, 11.6, 12.1,
  11.3, 11.0, 11.4, 12.5, 13.8, 14.8, 15.1, 15.0, 14.6, 15.05,
  14.2, 14.65, 14.0, 14.5, 15.3, 14.6, 13.6, 14.0, 14.3, 15.1,
  14.4, 15.0, 14.2, 14.0, 13.5, 13.0, 13.8, 13.2, 13.7, 13.1,
  12.8, 13.0, 13.4, 13.4, 12.9, 13.2, 14.4, 12.9, 12.0, 11.2,
  10.6, 11.4, 11.8, 12.1, 11.6, 12.0, 11.7, 12.5, 12.4, 10.6,
  10.0, 9.3, 10.1, 10.3, 10.5, 10.8, 11.3, 10.7, 11.1, 10.8,
  10.7, 11.0, 11.2, 11.5, 11.9, 11.2, 10.9, 10.2, 10.5, 9.5,
  9.75, 9.6, 9.0, 8.0, 7.2, 8.2, 8.75, 9.6, 9.3, 9.4,
  9.0, 8.5, 8.9, 8.7, 8.4, 8.5, 8.2, 8.2, 8.0, 7.9,
  8.5, 8.0, 8.1, 7.8, 7.6, 6.9, 6.4, 5.9, 5.8, 5.2,
  4.7, 5.0, 6.0, 6.0, 6.0
];

// ---------------------------------------------------------------------------
const FONT = 'Liberation Serif';
const TEXT = '#141414';
const GRID_GRAY = '#8a8a8a';
const STATION_COLOR = '#1e1e1e';
const RIVER_COLOR = '#4a7ebb';

const tickDays = xTickLabels.map((_, i) => i * tickStepDays);

// settled daily readings held as steps; each excursion is a brief jump that
// returns to that day's settled reading
function stationSeries(daily, spikes, firstDay) {
  const pts = daily.map((v, i) => [firstDay + i, v]);
  const extra = [];
  spikes.forEach(([d, v]) => {
    const settled = daily[Math.floor(d) - firstDay];
    extra.push([d, v], [d + 0.3, settled]);
  });
  return pts.concat(extra).sort((a, b) => a[0] - b[0]);
}
// each river day contributes its low then its high reading
function lowHighSeries(lows, highs, firstDay) {
  const out = [];
  lows.forEach((lo, i) => {
    out.push([firstDay + i, lo]);
    out.push([firstDay + i + 0.5, highs[i]]);
  });
  return out;
}

const panels = [
  { name: '2014-15 MCR Station 2_AS', data: stationSeries(station2ASDaily, station2ASSpikes, stationFirstDay), river: false,
    top: 21, left: 94, legendLeft: 140, legendMid: 51 },
  { name: '2014-15 MCR Station 4', data: stationSeries(station4Daily, station4Spikes, stationFirstDay), river: false,
    top: 288, left: 94, legendLeft: 177, legendMid: 320 },
  { name: '2014-15 MCR Station 5', data: stationSeries(station5Daily, station5Spikes, stationFirstDay), river: false,
    top: 557, left: 94, legendLeft: 177, legendMid: 589 },
  { name: '2014-15 MCR Station 6', data: stationSeries(station6Daily, station6Spikes, stationFirstDay), river: false,
    top: 826, left: 94, legendLeft: 179, legendMid: 858 },
  { name: '2014-15 Illecillewaet River', data: lowHighSeries(illecillewaetLow, illecillewaetHigh, riverFirstDay), river: true,
    top: 1094, left: 98, legendLeft: 145, legendMid: 1133 },
  { name: '2014-15 Jordan River', data: lowHighSeries(jordanLow, jordanHigh, riverFirstDay), river: true,
    top: 1363, left: 98, legendLeft: 172, legendMid: 1402 }
];

const PLOT_RIGHT = 1436;
const PLOT_HEIGHT = 241;
const X_MAX = 381.5;

const grid = [], xAxis = [], yAxis = [], series = [], legend = [];

panels.forEach((p, i) => {
  const last = i === panels.length - 1;
  const color = p.river ? RIVER_COLOR : STATION_COLOR;
  grid.push({ left: p.left, top: p.top, width: PLOT_RIGHT - p.left, height: PLOT_HEIGHT, containLabel: false });

  xAxis.push({
    gridIndex: i, type: 'value', min: 0, max: X_MAX,
    axisLine: { show: true, onZero: false, lineStyle: { color: GRID_GRAY, width: 1 } },
    axisTick: { show: true, inside: false, length: 7, customValues: tickDays,
      lineStyle: { color: GRID_GRAY, width: 1 } },
    axisLabel: { show: last, customValues: tickDays, margin: 18,
      formatter: v => xTickLabels[Math.round(v / tickStepDays)],
      fontFamily: FONT, fontSize: 26, color: TEXT },
    splitLine: { show: false }
  });

  yAxis.push({
    gridIndex: i, type: 'value', min: yTickValues[0], max: yTickValues[yTickValues.length - 1], interval: 4,
    axisLine: { show: true, lineStyle: { color: GRID_GRAY, width: 1 } },
    axisTick: { show: true, inside: false, length: 8, lineStyle: { color: GRID_GRAY, width: 1 } },
    axisLabel: { margin: 21, fontFamily: FONT, fontSize: 25, color: TEXT },
    splitLine: { show: true, lineStyle: { color: GRID_GRAY, width: 1 } },
    name: 'Temperature {sup|o}C',
    nameLocation: 'middle', nameRotate: 90, nameGap: 63,
    nameTextStyle: {
      fontFamily: FONT, fontSize: 26, color: TEXT, lineHeight: 30,
      rich: { sup: { fontFamily: FONT, fontSize: 17, color: TEXT, verticalAlign: 'top', lineHeight: 30 } }
    }
  });

  series.push({
    name: p.name, type: 'line', xAxisIndex: i, yAxisIndex: i,
    data: p.data, symbol: 'none', showSymbol: false, silent: true,
    step: p.river ? false : 'end',
    lineStyle: { color: color, width: p.river ? 3.3 : 1 },
    itemStyle: { color: color },
    emphasis: { disabled: true }
  });

  legend.push({
    data: [{ name: p.name, icon: 'rect' }], left: p.legendLeft, top: p.legendMid - 14,
    padding: 0, itemGap: 0, itemWidth: p.river ? 40 : 37, itemHeight: p.river ? 4 : 1.2,
    selectedMode: false,
    itemStyle: { color: color, borderWidth: 0 },
    textStyle: { fontFamily: FONT, fontSize: 25, color: TEXT, lineHeight: 28 }
  });
});

const chart = echarts.init(document.getElementById('chart'), null, { renderer: 'canvas', width: 1481, height: 1652 });
chart.setOption({
  backgroundColor: '#ffffff',
  animation: false,
  grid, xAxis, yAxis, series, legend
});
</script>
</body>
</html>
